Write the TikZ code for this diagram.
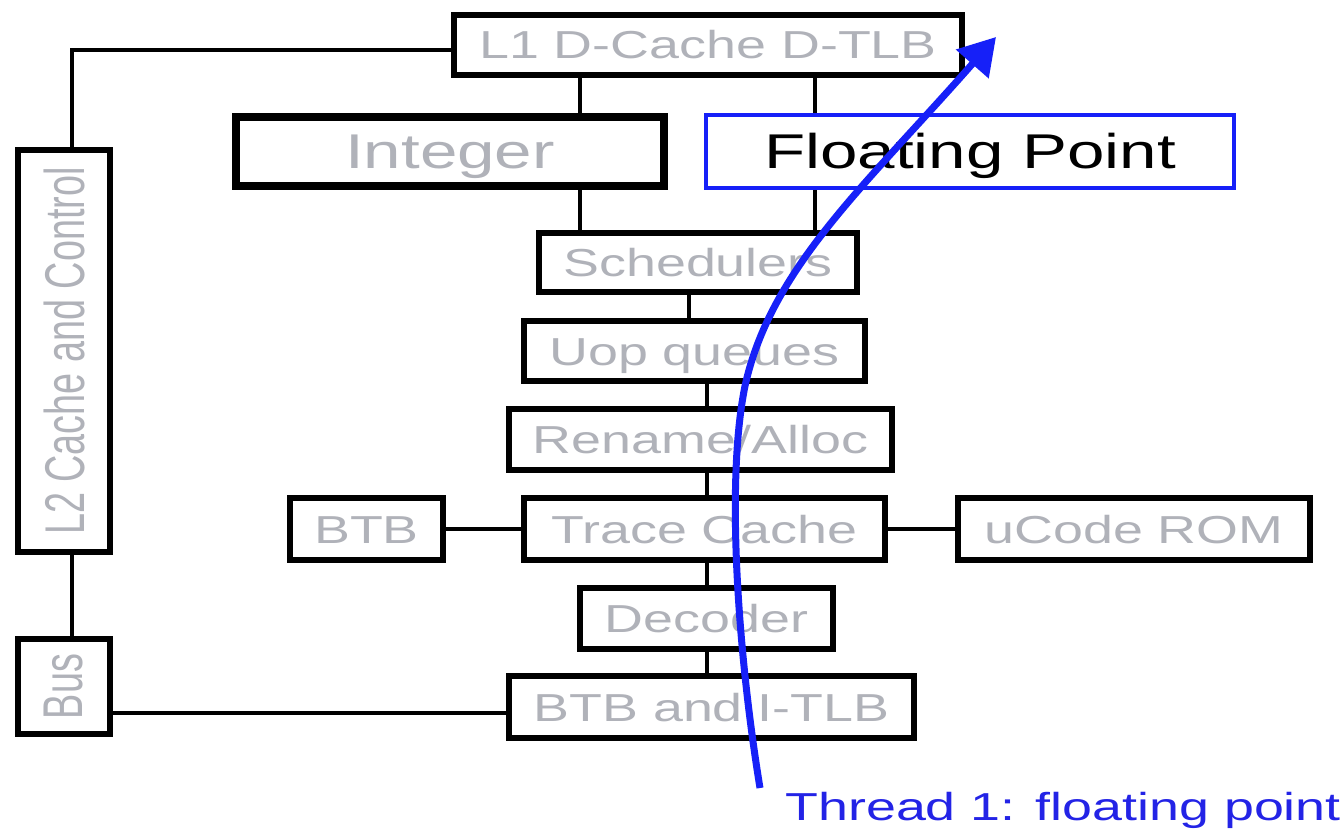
\documentclass[tikz,border=0pt]{standalone}
\usepackage{fontspec}
\setmainfont{Liberation Sans}[FakeStretch=1.38]
\newfontfamily\tallFont{Liberation Sans}[FakeStretch=0.675]
\usetikzlibrary{arrows.meta}
\definecolor{unitGray}{RGB}{176,178,185}
\definecolor{fpBlue}{RGB}{22,32,248}
\definecolor{threadBlue}{RGB}{35,35,230}
\newcommand{\pxUnit}{0.5pt}
\newcommand{\unitFont}{\fontsize{19.5}{20}\selectfont}
\newcommand{\bigUnitFont}{\fontsize{24.4}{25}\selectfont}
\newcommand{\sideFont}{\tallFont\fontsize{28}{28}\selectfont}

\begin{document}
\begin{tikzpicture}[x=\pxUnit, y=-\pxUnit,
   unitBox/.style={draw, line width=3.2pt, fill=white, inner sep=0pt, text=unitGray},
   unit/.style={unitBox, font=\unitFont, text height=14pt, text depth=0pt},
   bigUnit/.style={unitBox, font=\bigUnitFont, text height=17.5pt, text depth=0pt},
   sideUnit/.style={unitBox, font=\sideFont},
   wire/.style={line width=2pt}]
   \useasboundingbox (0,0) rectangle (1344,829);

   \coordinate (intLane) at (580,0);
   \coordinate (fpLane) at (815,0);
   \coordinate (schedLane) at (689,0);
   \coordinate (spine) at (707,0);
   \coordinate (busLane) at (0,713);

   \node[unit, minimum width=253.8pt, minimum height=29.8pt] (l1Cache) at (708,45) {L1 D-Cache D-TLB};
   \node[bigUnit, line width=4pt, minimum width=214pt, minimum height=34.5pt] (intUnit) at (450,151.5) {Integer};
   \node[bigUnit, draw=fpBlue, line width=2.2pt, text=black, minimum width=263.8pt, minimum height=36.3pt] (fpUnit) at (970,151.5) {Floating Point};
   \node[unit, minimum width=158.8pt, minimum height=29.3pt] (schedulers) at (698,262.5) {Schedulers};
   \node[unit, minimum width=170.3pt, minimum height=29.8pt] (uopQueues) at (694.5,351) {Uop queues};
   \node[unit, minimum width=191.3pt, minimum height=30.3pt] (renameAlloc) at (700.5,439.5) {Rename/Alloc};
   \node[unit, minimum width=76.3pt, minimum height=30.8pt] (btb) at (366.5,529) {BTB};
   \node[unit, minimum width=180.3pt, minimum height=30.8pt] (traceCache) at (704.5,529) {Trace Cache};
   \node[unit, minimum width=175.8pt, minimum height=30.8pt] (uCodeRom) at (1134,529) {uCode ROM};
   \node[unit, minimum width=126.3pt, minimum height=30.3pt] (decoder) at (706.5,618.5) {Decoder};
   \node[unit, minimum width=202.3pt, minimum height=30.8pt] (btbItlb) at (711.5,707) {BTB and I-TLB};
   \node[sideUnit, minimum width=45.8pt, minimum height=200.8pt] (l2Cache) at (64,351) {\rotatebox{90}{L2 Cache and Control}};
   \node[sideUnit, minimum width=45.8pt, minimum height=47.3pt] (bus) at (64,686.5) {\rotatebox{90}{Bus}};

   \draw[wire] ([yshift=-2.5pt]l1Cache.west) -| ([xshift=4pt]l2Cache.north);
   \draw[wire] ([xshift=4pt]l2Cache.south) -- ([xshift=4pt]bus.north);
   \draw[wire] (bus.east |- busLane) -- (btbItlb.west |- busLane);
   \draw[wire] (l1Cache.south -| intLane) -- (intUnit.north -| intLane);
   \draw[wire] (intUnit.south -| intLane) -- (schedulers.north -| intLane);
   \draw[wire] (l1Cache.south -| fpLane) -- (fpUnit.north -| fpLane);
   \draw[wire] (fpUnit.south -| fpLane) -- (schedulers.north -| fpLane);
   \draw[wire] (schedulers.south -| schedLane) -- (uopQueues.north -| schedLane);
   \foreach \upper/\lower in {uopQueues/renameAlloc, renameAlloc/traceCache, traceCache/decoder, decoder/btbItlb}
   {%
      \draw[wire] (\upper.south -| spine) -- (\lower.north -| spine);
   }
   \draw[wire] (btb.east) -- (traceCache.west);
   \draw[wire] (traceCache.east) -- (uCodeRom.west);

   \node[anchor=base west, inner sep=0pt, text=threadBlue, font=\unitFont] (threadLabel) at (785,820) {Thread 1: floating point};
   \coordinate (threadStart) at (760,788);
   \coordinate (threadBend) at (745,386);
   \coordinate (threadTip) at (996,37);
   \draw[fpBlue, line width=3.5pt, -{Triangle[length=18pt, width=21pt]}] (threadStart)
      .. controls (739,660) and (725,484) .. (threadBend)
      .. controls (771,268) and (865,186) .. (threadTip);
\end{tikzpicture}
\end{document}
